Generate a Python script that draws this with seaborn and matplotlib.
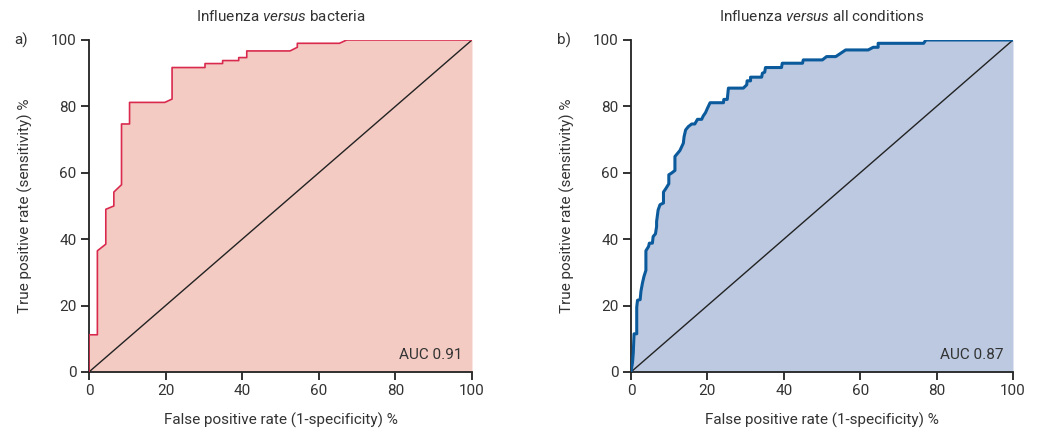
import matplotlib
matplotlib.use("Agg")
import matplotlib.pyplot as plt
import seaborn as sns
import pandas as pd

# panel a: influenza versus bacteria (step ROC curve)
fpr_a = [0, 0, 2.2, 2.2, 4.4, 4.4, 6.5, 6.5, 8.5, 8.5, 10.6, 10.6, 19.8, 21.7,
         21.7, 30.3, 30.3, 34.9, 34.9, 39.1, 39.1, 41.2, 41.2, 52.5, 54.4, 54.4,
         65.4, 67.3, 100]
tpr_a = [0, 11.2, 11.2, 36.5, 38.5, 49.0, 50.0, 54.2, 56.4, 74.7, 74.7, 81.2,
         81.2, 82.2, 91.7, 91.7, 92.9, 92.9, 93.8, 93.8, 94.7, 94.7, 96.7, 96.7,
         97.8, 99.0, 99.0, 100, 100]

# panel b: influenza versus all conditions
fpr_b = [0, 0.4, 0.6, 0.8, 1.5, 1.5, 1.7, 2.4, 2.6, 3.0, 3.4, 3.9, 3.9, 4.6,
         4.8, 5.6, 5.8, 6.4, 6.7, 6.7, 7.1, 7.6, 8.5, 8.5, 9.1, 9.9, 9.9, 10.6,
         11.5, 11.5, 12.8, 13.7, 13.9, 14.3, 15.0, 15.9, 16.7, 17.4, 18.5, 18.9,
         19.5, 20.0, 20.7, 24.2, 24.3, 25.2, 25.5, 29.4, 30.3, 30.4, 31.3, 31.3,
         34.2, 34.4, 35.0, 35.2, 39.4, 39.6, 44.9, 45.1, 50.1, 51.2, 53.6, 56.2,
         62.1, 63.4, 64.7, 64.7, 76.6, 77.2, 100]
tpr_b = [0, 2.9, 5.9, 11.5, 11.5, 19.5, 21.6, 21.8, 24.3, 26.8, 28.8, 30.6,
         36.5, 37.8, 38.8, 38.8, 40.8, 41.6, 43.8, 45.3, 48.8, 50.4, 50.9, 54.2,
         55.2, 56.7, 59.4, 59.9, 60.7, 64.9, 66.7, 68.9, 70.9, 72.9, 73.9, 74.7,
         74.7, 76.1, 76.1, 77.1, 78.1, 79.4, 81.1, 81.1, 82.1, 82.1, 85.5, 85.5,
         86.5, 87.7, 87.7, 88.8, 88.8, 90.0, 90.3, 91.7, 91.7, 93.0, 93.0, 94.0,
         94.0, 95.0, 95.0, 97.0, 97.0, 97.8, 97.8, 99.0, 99.0, 100, 100]

titles = ["Influenza $\\it{versus}$ bacteria", "Influenza $\\it{versus}$ all conditions"]
panel_tags = ["a)", "b)"]
auc_labels = ["AUC 0.91", "AUC 0.87"]
line_colors = ["#d9294c", "#0b5a9c"]
fill_colors = ["#f4cbc3", "#bcc9e1"]
line_widths = [1.2, 2.2]

sns.set_theme(style="ticks")
plt.rcParams["font.family"] = ["Roboto", "DejaVu Sans"]
plt.rcParams["mathtext.fontset"] = "custom"
plt.rcParams["mathtext.it"] = "Roboto:italic"
plt.rcParams["mathtext.rm"] = "Roboto"
text_col = "#333333"
fs = 11

fig = plt.figure(figsize=(10.38, 4.29), dpi=100)
axes = [fig.add_axes([0.0857, 0.1329, 0.369, 0.7739]),
        fig.add_axes([0.6079, 0.1329, 0.368, 0.7739])]

curves = [(fpr_a, tpr_a), (fpr_b, tpr_b)]
for i, ax in enumerate(axes):
    fpr, tpr = curves[i]
    df = pd.DataFrame({"fpr": fpr, "tpr": tpr})
    ax.fill_between(df["fpr"], df["tpr"], 0, color=fill_colors[i], lw=0, zorder=1)
    ax.plot([0, 100], [0, 100], color="#222222", lw=1.0, zorder=2)
    sns.lineplot(data=df, x="fpr", y="tpr", sort=False, estimator=None,
                 color=line_colors[i], lw=line_widths[i], ax=ax, zorder=3)
    ax.set_xlim(0, 100)
    ax.set_ylim(0, 100)
    ax.set_xticks(range(0, 101, 20))
    ax.set_yticks(range(0, 101, 20))
    sns.despine(ax=ax)
    for s in ["left", "bottom"]:
        ax.spines[s].set_color("#222222")
        ax.spines[s].set_linewidth(1.3)
    ax.tick_params(direction="out", length=6, width=1.3, color="#222222",
                   labelsize=fs, labelcolor=text_col, pad=3)
    ax.set_xlabel("False positive rate (1-specificity) %", fontsize=fs,
                  color=text_col, labelpad=10)
    ax.set_ylabel("True positive rate (sensitivity) %", fontsize=fs,
                  color=text_col, labelpad=13)
    ax.set_title(titles[i], fontsize=fs, color=text_col, pad=14)
    ax.text(0.975, 0.03, auc_labels[i], transform=ax.transAxes, ha="right",
            va="bottom", fontsize=fs, color=text_col, zorder=4)
    ax.text(-0.195, 1.0, panel_tags[i], transform=ax.transAxes, ha="left",
            va="center", fontsize=fs, color=text_col)

fig.savefig("out.png", dpi=100)
